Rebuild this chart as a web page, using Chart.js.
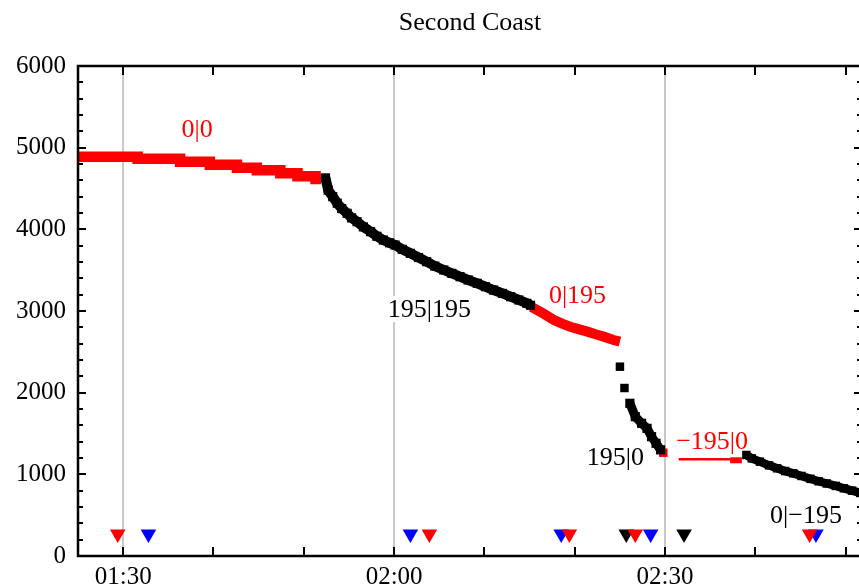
<!DOCTYPE html>
<html><head><meta charset="utf-8">
<script src="https://cdn.jsdelivr.net/npm/chart.js@4.4.1/dist/chart.umd.min.js"></script>
<style>html,body{margin:0;padding:0;background:#fff;overflow:hidden}#wrap{width:859px;height:588px;overflow:hidden}</style>
</head><body><div id="wrap"><canvas id="c" width="862" height="588"></canvas></div>
<script>
// ---- data (x in minutes after 00:00, y in value units) ----
const titleText = "Second Coast";
const xMinorTicks = [90, 100, 110, 120, 130, 140, 150, 160, 170];
const xMajorTicks = [90, 120, 150];
const xTickLabels = ["01:30", "02:00", "02:30"];
const yTicks = [0,200,400,600,800,1000,1200,1400,1600,1800,2000,2200,2400,2600,2800,3000,3200,3400,3600,3800,4000,4200,4400,4600,4800,5000,5200,5400,5600,5800,6000];
const yLabelTicks = [0, 1000, 2000, 3000, 4000, 5000, 6000];
const yTickLabels = ["0", "1000", "2000", "3000", "4000", "5000", "6000"];

const redAX = [85.0, 91.6, 96.3, 99.6, 102.6, 104.8, 107.4, 109.3, 111.3, 111.9];
const redAY = [4890, 4865, 4828, 4791, 4755, 4722, 4686, 4649, 4616, 4616];

const blackAX = [112.4,112.7,113.2,113.7,114.2,114.8,115.3,115.9,116.6,117.4,118.1,118.8,119.5,120.1,120.9,121.8,122.7,123.6,124.5,125.5,126.4,127.3,128.2,129.2,130.1,131.0,132.0,132.9,133.8,134.7,135.1];
const blackAY = [4630,4480,4400,4320,4255,4196,4140,4093,4030,3971,3915,3869,3835,3808,3755,3706,3655,3604,3550,3502,3460,3420,3380,3339,3298,3257,3215,3175,3135,3094,3070];

const redBX = [135.2,136.5,137.7,138.6,139.5,140.5,141.4,142.3,143.2,144.3,145.0];
const redBY = [3050,2970,2890,2845,2808,2775,2747,2715,2686,2645,2625];

const blackDotX = [145.0, 145.5];
const blackDotY = [2318, 2057];

const blackBX = [146.1,146.7,147.4,148.0,148.5,149.0,149.5];
const blackBY = [1870,1706,1625,1563,1461,1380,1300];

const redDotX = [149.8];
const redDotY = [1265];

const redThinX = [151.5, 157.2];
const redThinY = [1184, 1184];
const redBlockX = [157.2, 158.5];
const redBlockY = [1172, 1172];

const blackCX = [159.0,159.6,160.5,161.5,162.4,163.3,164.2,165.1,166.1,167.0,167.9,168.9,169.8,170.7,171.6];
const blackCY = [1237,1195,1155,1110,1074,1040,1012,980,945,915,888,858,829,800,772];

const markLevel = 270;
const redMarkX = [89.4, 123.9, 139.4, 146.7, 166.0];
const blueMarkX = [92.8, 121.8, 138.5, 148.4, 166.7];
const blackMarkX = [145.7, 152.1];

const noteText = ["0|0", "195|195", "0|195", "195|0", "\u2212195|0", "0|\u2212195"];
const noteX = [98.2, 123.9, 140.3, 144.5, 155.2, 165.6];
const noteY = [5230, 3025, 3196, 1212, 1408, 502];
const noteColor = ["#ff0000", "#000000", "#ff0000", "#000000", "#ff0000", "#000000"];

// ---- helpers ----
const RED = "#ff0000", BLUE = "#0000ff", BLACK = "#000000";
const zip = (xs, ys) => xs.map((x, i) => ({x: x, y: ys[i]}));
const FONT = "'Liberation Serif', 'DejaVu Serif', serif";

function lineSet(xs, ys, color, width, extra) {
  return Object.assign({
    data: zip(xs, ys), showLine: true, borderColor: color, backgroundColor: color,
    borderWidth: width, pointRadius: 0, pointHoverRadius: 0, borderCapStyle: 'butt',
    borderJoinStyle: 'miter', clip: 0, tension: 0
  }, extra || {});
}
function pointSet(xs, ys, color, style, radius, rot) {
  return {
    data: zip(xs, ys), showLine: false, borderColor: color, backgroundColor: color,
    pointStyle: style, pointRadius: radius, pointHoverRadius: radius, pointBorderWidth: 0,
    pointRotation: rot || 0, clip: 0
  };
}

const titlePlugin = {
  id: 'centerTitle',
  afterDraw(chart) {
    const ctx = chart.ctx, a = chart.chartArea;
    ctx.save();
    ctx.font = "26px " + FONT;
    ctx.fillStyle = '#000';
    ctx.textAlign = 'center';
    ctx.textBaseline = 'middle';
    ctx.fillText(titleText, (a.left + a.right) / 2, 23);
    ctx.restore();
  }
};

const framePlugin = {
  id: 'frame',
  afterDatasetsDraw(chart) {
    const ctx = chart.ctx, a = chart.chartArea, xs = chart.scales.x, ys = chart.scales.y;
    ctx.save();
    ctx.strokeStyle = '#000';
    ctx.lineWidth = 2;
    xMinorTicks.forEach(v => {
      const px = Math.round(xs.getPixelForValue(v));
      ctx.beginPath();
      ctx.moveTo(px, a.bottom); ctx.lineTo(px, a.bottom - 9);
      ctx.moveTo(px, a.top); ctx.lineTo(px, a.top + 9);
      ctx.stroke();
    });
    yTicks.forEach(v => {
      const py = Math.round(ys.getPixelForValue(v));
      const len = (v % 1000 === 0) ? 8 : 5;
      ctx.beginPath();
      ctx.moveTo(a.left, py); ctx.lineTo(a.left + len, py);
      ctx.moveTo(a.right, py); ctx.lineTo(a.right - len, py);
      ctx.stroke();
    });
    ctx.lineWidth = 2.5;
    ctx.strokeRect(a.left, a.top, a.right - a.left, a.bottom - a.top);
    ctx.restore();
  }
};

const notePlugin = {
  id: 'notes',
  beforeDatasetsDraw(chart) {
    const ctx = chart.ctx, xs = chart.scales.x, ys = chart.scales.y;
    ctx.save();
    ctx.font = "26px " + FONT;
    ctx.textAlign = 'center';
    ctx.textBaseline = 'middle';
    noteText.forEach((t, i) => {
      const px = xs.getPixelForValue(noteX[i]), py = ys.getPixelForValue(noteY[i]);
      const w = ctx.measureText(t).width;
      ctx.fillStyle = '#ffffff';
      ctx.fillRect(px - w / 2 - 2, py - 13, w + 4, 26);
      ctx.fillStyle = noteColor[i];
      ctx.fillText(t, px, py + 1);
    });
    ctx.restore();
  }
};

new Chart(document.getElementById('c'), {
  type: 'scatter',
  data: {
    datasets: [
      lineSet(redAX, redAY, RED, 10.5, {stepped: true}),
      lineSet(blackAX, blackAY, BLACK, 10),
      pointSet(blackAX, blackAY, BLACK, 'rect', 6.5),
      lineSet(redBX, redBY, RED, 10),
      pointSet(blackDotX, blackDotY, BLACK, 'rect', 6),
      lineSet(blackBX, blackBY, BLACK, 9),
      pointSet(blackBX, blackBY, BLACK, 'rect', 6.5),
      pointSet(redDotX, redDotY, RED, 'rect', 6),
      lineSet(redThinX, redThinY, RED, 2.5),
      lineSet(redBlockX, redBlockY, RED, 6),
      lineSet(blackCX, blackCY, BLACK, 8.5),
      pointSet(blackCX, blackCY, BLACK, 'rect', 6),
      pointSet(redMarkX, redMarkX.map(() => markLevel), RED, 'triangle', 9, 180),
      pointSet(blueMarkX, blueMarkX.map(() => markLevel), BLUE, 'triangle', 9, 180),
      pointSet(blackMarkX, blackMarkX.map(() => markLevel), BLACK, 'triangle', 9, 180)
    ]
  },
  options: {
    responsive: false,
    animation: false,
    devicePixelRatio: 1,
    events: [],
    layout: {autoPadding: false, padding: {left: 0, right: 0, top: 66, bottom: 0}},
    plugins: {
      legend: {display: false},
      tooltip: {enabled: false},
      title: {display: false}
    },
    scales: {
      x: {
        type: 'linear', min: 85, max: 171.8,
        afterBuildTicks: s => { s.ticks = xMinorTicks.map(v => ({value: v})); },
        afterFit: s => { s.height = 32; s.paddingLeft = 0; s.paddingRight = 0; },
        border: {display: false},
        grid: {
          drawTicks: false,
          color: c => (c.tick && xMajorTicks.includes(c.tick.value)) ? '#c8c8c8' : 'rgba(0,0,0,0)',
          lineWidth: 2
        },
        ticks: {
          autoSkip: false, maxRotation: 0, padding: 6, color: '#000',
          font: {family: FONT, size: 25},
          callback: v => { const i = xMajorTicks.indexOf(v); return i >= 0 ? xTickLabels[i] : ''; }
        }
      },
      y: {
        type: 'linear', min: 0, max: 6000,
        afterBuildTicks: s => { s.ticks = yTicks.map(v => ({value: v})); },
        afterFit: s => { s.width = 78; s.paddingTop = 0; s.paddingBottom = 0; },
        border: {display: false},
        grid: {display: false, drawTicks: false},
        ticks: {
          autoSkip: false, padding: 12, color: '#000',
          font: {family: FONT, size: 25},
          callback: v => { const i = yLabelTicks.indexOf(v); return i >= 0 ? yTickLabels[i] : ''; }
        }
      }
    }
  },
  plugins: [notePlugin, framePlugin, titlePlugin]
});
</script>
</body></html>
